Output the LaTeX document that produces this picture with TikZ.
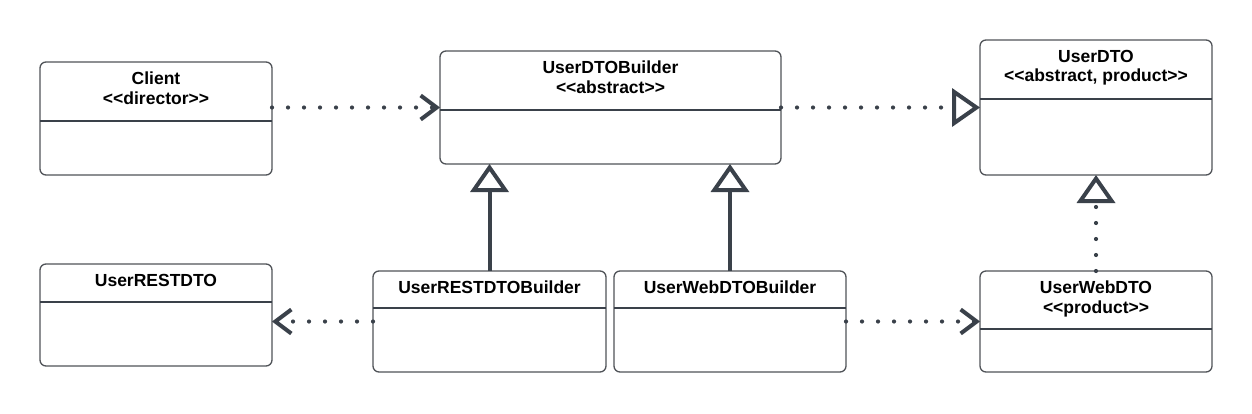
\documentclass[tikz,border=0pt]{standalone}
\usepackage{fontspec}
\setmainfont{Liberation Sans}
\usetikzlibrary{arrows.meta,calc}
\definecolor{edge}{HTML}{3A414A}
\definecolor{boxline}{HTML}{505358}
\tikzset{
  cls/.style={draw=boxline, line width=1.3pt, rounded corners=6pt, fill=white,
    inner sep=0pt, outer sep=0pt, anchor=north west},
  divider/.style={draw=edge, line width=1.1pt},
  title/.style={anchor=north, align=center, inner sep=0pt,
    font=\fontsize{17.5}{19.5}\selectfont\bfseries},
  dep/.style={draw=edge, line width=4.2pt, line cap=round, dash pattern=on 0pt off 16pt},
  inh/.style={draw=edge, line width=4pt},
  barb/.style={-{Straight Barb[length=16pt, width=24pt, line width=4pt]}},
  realize/.style={-{Triangle[open, length=28pt, width=38pt, line width=4pt]}},
}
\newcommand{\st}[1]{<\kern0pt<#1>\kern0pt>}
\begin{document}
\begin{tikzpicture}[x=1pt, y=-1pt]
\useasboundingbox (0,0) rectangle (1252,413);

% classes
\node[cls, minimum width=232pt, minimum height=113pt] (client) at (40,62) {};
\node[cls, minimum width=341pt, minimum height=113pt] (builder) at (440,51) {};
\node[cls, minimum width=232pt, minimum height=135pt] (userdto) at (980,40) {};
\node[cls, minimum width=232pt, minimum height=102pt] (restdto) at (40,264) {};
\node[cls, minimum width=233pt, minimum height=101pt] (restb) at (373,271) {};
\node[cls, minimum width=232pt, minimum height=101pt] (webb) at (614,271) {};
\node[cls, minimum width=232pt, minimum height=101pt] (webdto) at (980,271) {};

% dividers
\draw[divider] ([yshift=-59pt]client.north west) -- ([yshift=-59pt]client.north east);
\draw[divider] ([yshift=-59pt]builder.north west) -- ([yshift=-59pt]builder.north east);
\draw[divider] ([yshift=-59pt]userdto.north west) -- ([yshift=-59pt]userdto.north east);
\draw[divider] ([yshift=-38pt]restdto.north west) -- ([yshift=-38pt]restdto.north east);
\draw[divider] ([yshift=-37pt]restb.north west) -- ([yshift=-37pt]restb.north east);
\draw[divider] ([yshift=-37pt]webb.north west) -- ([yshift=-37pt]webb.north east);
\draw[divider] ([yshift=-58pt]webdto.north west) -- ([yshift=-58pt]webdto.north east);

% titles
\node[title] (clientT) at ([yshift=-10pt]client.north) {Client\\\st{director}};
\node[title] (builderT) at ([yshift=-10pt]builder.north) {UserDTOBuilder\\\st{abstract}};
\node[title] (userdtoT) at ([yshift=-10pt]userdto.north) {UserDTO\\\st{abstract, product}};
\node[title] (restdtoT) at ([yshift=-10pt]restdto.north) {UserRESTDTO};
\node[title] (restbT) at ([yshift=-10pt]restb.north) {UserRESTDTOBuilder};
\node[title] (webbT) at ([yshift=-10pt]webb.north) {UserWebDTOBuilder};
\node[title] (webdtoT) at ([yshift=-10pt]webdto.north) {UserWebDTO\\\st{product}};

% connectors
\draw[dep, barb] (client.east |- builder.west) -- (builder.west);
\draw[dep, realize] (builder.east) -- (userdto.west |- builder.east);
\draw[dep, barb] (restb.west) -- (restdto.east |- restb.west);
\draw[dep, barb] (webb.east) -- (webdto.west);
\draw[dep, realize] (webdto.north) -- (userdto.south);
\draw[inh, realize] (restb.north) -- (builder.south -| restb.north);
\draw[inh, realize] (webb.north) -- (builder.south -| webb.north);
\end{tikzpicture}
\end{document}
